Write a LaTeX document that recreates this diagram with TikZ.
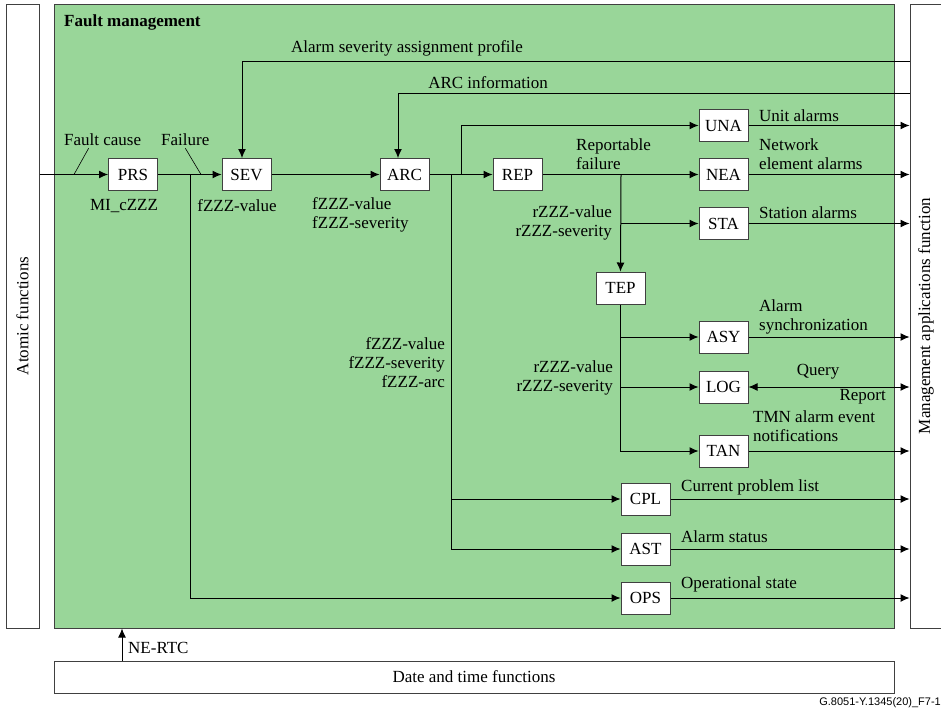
\documentclass[tikz,border=0pt]{standalone}
\usepackage{fontspec}
\setmainfont{Liberation Serif}
\newfontfamily\piefont{Liberation Sans}
\usetikzlibrary{positioning,arrows.meta}
\definecolor{fmverde}{RGB}{153,214,153}

\begin{document}
\begin{tikzpicture}[x=1pt,y=-1pt,font=\fontsize{17}{19}\selectfont, %unidades en pt, y hacia abajo
    bloque/.style={draw=black!75,fill=white,line width=1pt,minimum width=49pt,minimum height=32pt,inner sep=0pt},
    marco/.style={draw=black!75,line width=1pt},
    flecha/.style={line width=1pt,-{Latex[length=9pt,width=8pt]}},
    guia/.style={line width=0.6pt},
    txt/.style={inner sep=0pt,anchor=west,align=left},
    txtd/.style={inner sep=0pt,anchor=east,align=right},
    txtc/.style={inner sep=0pt}]
    \useasboundingbox (0,0) rectangle (941,713);

    %Cajas grandes
    \node[marco,fill=fmverde,minimum width=840pt,minimum height=624pt] (fm) at (474,316) {};
    \node[marco,minimum width=33pt,minimum height=624pt] (atomic) at (22.5,316) {};
    \node[txtc,rotate=90] (atomictxt) at (atomic) {Atomic functions};
    \node[marco,minimum width=50pt,minimum height=624pt] (mgmt) at (935,316) {};
    \node[txtc,rotate=90] (mgmttxt) at (926,316) {Management applications function};
    \node[marco,minimum width=840pt,minimum height=32pt] (dtf) at (474,677) {Date and time functions};
    \node[txt,font=\fontsize{17}{19}\selectfont\bfseries] (fmtxt) at (64,22) {Fault management};

    %Bloques
    \node[bloque] (prs) at (133,174.5) {PRS};
    \node[bloque] (sev) at (246.5,174.5) {SEV};
    \node[bloque] (arc) at (404.5,174.5) {ARC};
    \node[bloque] (rep) at (517.5,174.5) {REP};
    \node[bloque] (nea) at (723.5,174.5) {NEA};
    \node[bloque,above=16pt of nea] (una) {UNA};
    \node[bloque,below=16pt of nea] (sta) {STA};
    \node[bloque] (tep) at (620.5,288) {TEP};
    \node[bloque] (asy) at (723.5,337) {ASY};
    \node[bloque,below=17pt of asy] (log) {LOG};
    \node[bloque] (tan) at (723.5,451) {TAN};
    \node[bloque] (cpl) at (645.5,499) {CPL};
    \node[bloque,below=17pt of cpl] (ast) {AST};
    \node[bloque,below=16pt of ast] (ops) {OPS};

    %Puntos de union
    \coordinate (in) at (atomic.east |- prs);
    \coordinate (j1) at (190,174.5); %va a OPS
    \coordinate (j2) at (451,174.5); %va a CPL y AST
    \coordinate (j3) at (461,174.5); %va a UNA
    \coordinate (j4) at (621,174.5); %va a STA y TEP
    \coordinate (prof) at (910,61);
    \coordinate (arcinf) at (910,93);
    \coordinate (rtc) at (122,661);
    \coordinate (fcp) at (74,174.5);
    \coordinate (ffp) at (201,174.5);

    %Camino principal
    \draw[flecha] (in) -- (prs);
    \draw[flecha] (prs) -- (sev);
    \draw[flecha] (sev) -- (arc);
    \draw[flecha] (arc) -- (rep);
    \draw[flecha] (rep) -- (nea);

    %Ramas
    \draw[flecha] (j1) |- (ops);
    \draw[flecha] (j2) |- (ast);
    \draw[flecha] (j2 |- cpl) -- (cpl);
    \draw[flecha] (j3) |- (una);
    \draw[flecha] (j4) -- (tep.north);
    \draw[flecha] (j4 |- sta) -- (sta);
    \draw[flecha] (tep.south) |- (tan);
    \draw[flecha] (tep.south |- asy) -- (asy);
    \draw[flecha] (tep.south |- log) -- (log);

    %Entradas desde la derecha
    \draw[flecha] (prof) -| ([xshift=-4.5pt]sev.north);
    \draw[flecha] (arcinf) -| ([xshift=-6.5pt]arc.north);

    %Salidas hacia la derecha
    \foreach \n in {una,nea,sta,asy,tan,cpl,ast,ops}
        \draw[flecha] (\n) -- (mgmt.west |- \n);
    \draw[line width=1pt,{Latex[length=9pt,width=8pt]}-{Latex[length=9pt,width=8pt]}] (log) -- (mgmt.west |- log);

    \draw[flecha] (rtc) -- (rtc |- fm.south);

    %Textos
    \node[txt] (lfc) at (64,140) {Fault cause};
    \node[txt] (lfail) at (161,140) {Failure};
    \draw[guia] ([xshift=-14pt,yshift=-2pt]lfc.south) -- (fcp);
    \draw[guia] ([yshift=-2pt]lfail.south) -- (ffp);
    \node[txtc] (lmi) at (124,206) {MI\_cZZZ};
    \node[txtc] (lsevv) at (237,206) {fZZZ-value};
    \node[txt] (larcv) at (312,214.5) {fZZZ-value\\fZZZ-severity};
    \node[txtd] (lrepv) at (612,222.5) {rZZZ-value\\rZZZ-severity};
    \node[txt] (lrepf) at (576,154) {Reportable\\failure};
    \node[txtd] (lfarc) at (445,362.5) {fZZZ-value\\fZZZ-severity\\fZZZ-arc};
    \node[txtd] (ltepv) at (613,377.5) {rZZZ-value\\rZZZ-severity};
    \node[txt] (luna) at (759,116) {Unit alarms};
    \node[txt] (lnea) at (759,154.5) {Network\\element alarms};
    \node[txt] (lsta) at (759,213) {Station alarms};
    \node[txt] (lasy) at (759,316.5) {Alarm\\synchronization};
    \node[txtc] (lquery) at (818,372) {Query};
    \node[txtd] (lreport) at (886,397) {Report};
    \node[txt] (ltan) at (753,426) {TMN alarm event\\notifications};
    \node[txt] (lcpl) at (681,487) {Current problem list};
    \node[txt] (last) at (681,537) {Alarm status};
    \node[txt] (lops) at (681,584) {Operational state};
    \node[txt] (lrtc) at (128,648) {NE-RTC};
    \node[txtc] (lprof) at (407,48) {Alarm severity assignment profile};
    \node[txtc] (larcinfo) at (488,83) {ARC information};
    \node[txtd,font=\piefont\fontsize{11}{13}\selectfont] (lpie) at (941,703) {G.8051-Y.1345(20)\_F7-1};
\end{tikzpicture}
\end{document}
